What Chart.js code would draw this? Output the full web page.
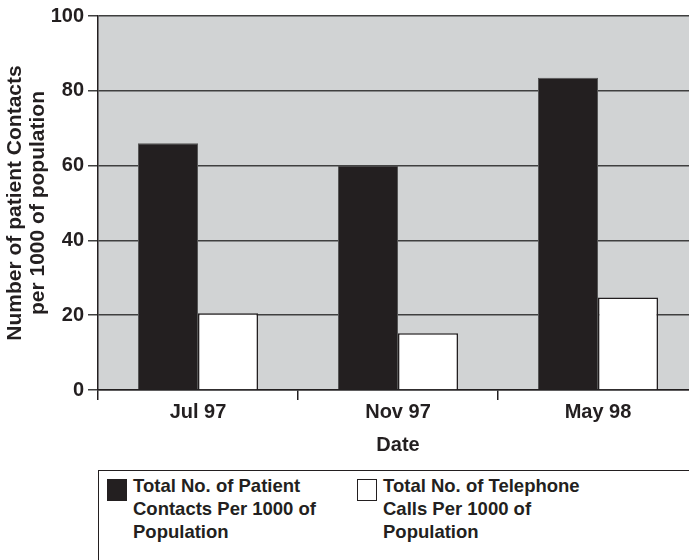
<!DOCTYPE html>
<html>
<head>
<meta charset="utf-8">
<script src="https://cdn.jsdelivr.net/npm/chart.js@4"></script>
<style>
  html, body { margin: 0; padding: 0; background: #fff; }
  body { width: 689px; height: 560px; overflow: hidden; position: relative; font-family: 'Liberation Sans', Arial, sans-serif; }
  #wrap { position: absolute; left: 0; top: 0; width: 702px; height: 468px; }
  #legend { position: absolute; left: 98px; top: 470px; width: 640px; height: 120px; border: 1.5px solid #231f20; box-sizing: border-box; }
  .item { position: absolute; top: 0; }
  .swatch { position: absolute; top: 8px; width: 20px; height: 22px; box-sizing: border-box; border: 1.5px solid #231f20; }
  .text { position: absolute; left: 26px; top: 3px; white-space: nowrap; font: bold 18.5px 'Liberation Sans', Arial, sans-serif; line-height: 23px; color: #231f20; }
</style>
</head>
<body>
<div id="wrap"><canvas id="chart" width="702" height="468"></canvas></div>
<div id="legend"></div>
<script>
// ── Данные
const dates            = ['Jul 97', 'Nov 97', 'May 98'];
const patientContacts  = [66, 60, 83.5];
const telephoneCalls   = [20.5, 15.2, 24.7];
const yTickValues      = [0, 20, 40, 60, 80, 100];
const legendPatient    = ['Total No. of Patient', 'Contacts Per 1000 of', 'Population'];
const legendTelephone  = ['Total No. of Telephone', 'Calls Per 1000 of', 'Population'];
const yTitleLines      = ['Number of patient Contacts', 'per 1000 of population'];

const INK  = '#231f20';
const FONT = { family: "'Liberation Sans', Arial, sans-serif", size: 20, weight: 'bold' };

// серый фон области графика
const plotBackground = {
    id: 'plotBackground',
    beforeDraw(chart) {
        const { ctx, chartArea: a } = chart;
        ctx.save();
        ctx.fillStyle = '#d1d3d4';
        ctx.fillRect(a.left, a.top, a.right - a.left, a.bottom - a.top);
        ctx.restore();
    }
};

const chart = new Chart(document.getElementById('chart').getContext('2d'), {
    type: 'bar',
    data: {
        labels: dates,
        datasets: [
            {
                label:           legendPatient.join(' '),
                legendLines:     legendPatient,
                data:            patientContacts,
                backgroundColor: INK,
                borderColor:     '#555',
                borderWidth:     1,
                barPercentage:      1.0,
                categoryPercentage: 0.6
            },
            {
                label:           legendTelephone.join(' '),
                legendLines:     legendTelephone,
                data:            telephoneCalls,
                backgroundColor: '#ffffff',
                borderColor:     INK,
                borderWidth:     1.5,
                barPercentage:      1.0,
                categoryPercentage: 0.6
            }
        ]
    },
    options: {
        responsive: false,
        animation:  false,
        layout: { padding: { top: 8, left: 4, right: 4, bottom: 11 } },
        plugins: {
            legend:  { display: false },
            tooltip: { enabled: false }
        },
        scales: {
            x: {
                offset: true,
                grid:   { offset: true, drawOnChartArea: false, drawTicks: true, tickLength: 10, color: INK, lineWidth: 1.5 },
                border: { color: INK, width: 1.5 },
                ticks:  { color: INK, font: FONT, padding: 0 },
                title:  { display: true, text: 'Date', color: INK, font: FONT, padding: { top: 9, bottom: 0 } }
            },
            y: {
                min: 0,
                max: 100,
                afterBuildTicks: (axis) => { axis.ticks = yTickValues.map(v => ({ value: v })); },
                afterFit: (axis) => { axis.width = 94; },
                grid:   { color: '#3f3f3f', lineWidth: 1.5, drawTicks: true, tickLength: 10 },
                border: { color: INK, width: 1.5 },
                ticks:  { color: INK, font: FONT, padding: 4 },
                title:  { display: true, text: yTitleLines, color: INK, font: { ...FONT, size: 21, lineHeight: 1.1 }, padding: 0 }
            }
        }
    },
    plugins: [plotBackground]
});

// ── Легенда (HTML, из наборов данных)
const legendEl = document.getElementById('legend');
const itemLeft = [8, 258];
chart.data.datasets.forEach((ds, i) => {
    const item = document.createElement('div');
    item.className = 'item';
    item.style.left = itemLeft[i] + 'px';
    const sw = document.createElement('div');
    sw.className = 'swatch';
    sw.style.background = ds.backgroundColor;
    const tx = document.createElement('div');
    tx.className = 'text';
    tx.innerHTML = ds.legendLines.join('<br>');
    item.appendChild(sw);
    item.appendChild(tx);
    legendEl.appendChild(item);
});
</script>
</body>
</html>
